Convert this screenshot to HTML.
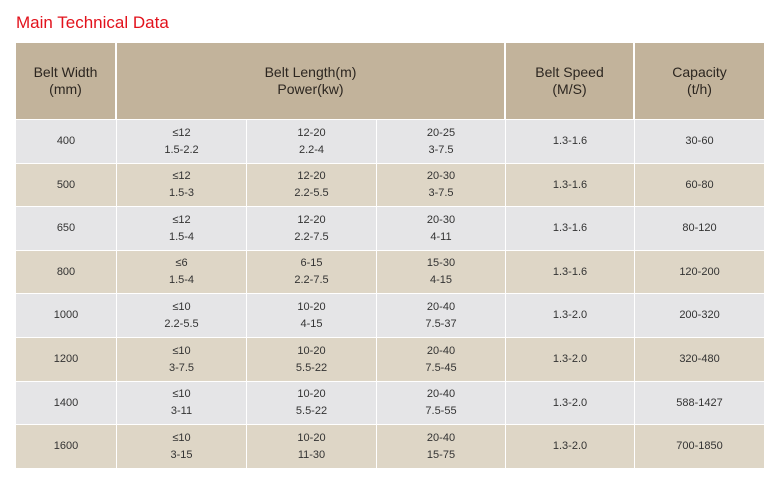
<!DOCTYPE html>
<html><head><meta charset="utf-8"><style>
body{margin:0;width:782px;height:479px;background:#fff;font-family:"Liberation Sans",sans-serif;position:relative;overflow:hidden}
.t{position:absolute;left:16px;top:13px;font-size:17px;color:#e2121c}
.c{position:absolute;display:flex;align-items:center;justify-content:center;text-align:center;color:#333;font-size:11px;line-height:17px;box-sizing:border-box}
.h{background:#c2b39b;font-size:14px;line-height:17px;color:#2c2620}
</style></head><body>
<div class="t">Main Technical Data</div>
<div id="tbl"></div>
<script>
const widths=["400","500","650","800","1000","1200","1400","1600"];
const len1=["≤12|1.5-2.2","≤12|1.5-3","≤12|1.5-4","≤6|1.5-4","≤10|2.2-5.5","≤10|3-7.5","≤10|3-11","≤10|3-15"];
const len2=["12-20|2.2-4","12-20|2.2-5.5","12-20|2.2-7.5","6-15|2.2-7.5","10-20|4-15","10-20|5.5-22","10-20|5.5-22","10-20|11-30"];
const len3=["20-25|3-7.5","20-30|3-7.5","20-30|4-11","15-30|4-15","20-40|7.5-37","20-40|7.5-45","20-40|7.5-55","20-40|15-75"];
const speeds=["1.3-1.6","1.3-1.6","1.3-1.6","1.3-1.6","1.3-2.0","1.3-2.0","1.3-2.0","1.3-2.0"];
const caps=["30-60","60-80","80-120","120-200","200-320","320-480","588-1427","700-1850"];
const cols=[16,116,246,376,505,634,764];
function cell(x,y,w,h,html,cls,bg){
 const d=document.createElement('div');
 d.className='c '+(cls||'');
 d.style.left=x+'px';d.style.top=y+'px';d.style.width=w+'px';d.style.height=h+'px';
 if(bg)d.style.background=bg;
 d.innerHTML=html;
 document.body.appendChild(d);return d;
}
const top0=43,hdrB=119,rowH=43.6;
let e;
e=cell(16,top0,99,hdrB-top0,'Belt Width<br>(mm)','h');


e=cell(117,top0,387,hdrB-top0,'Belt Length(m)<br>Power(kw)','h');


e=cell(506,top0,127,hdrB-top0,'Belt Speed<br>(M/S)','h');


e=cell(635,top0,129,hdrB-top0,'Capacity<br>(t/h)','h');


for(let r=0;r<widths.length;r++){
 const y=Math.round(hdrB+1+r*rowH), y2=Math.round(hdrB+1+(r+1)*rowH)-1;
 const bg=r%2?'#ded6c6':'#e5e5e7';
 const vals=[widths[r],len1[r].replace('|','<br>'),len2[r].replace('|','<br>'),len3[r].replace('|','<br>'),speeds[r],caps[r]];
 const names=['belt-width','length-power-1','length-power-2','length-power-3','belt-speed','capacity'];
 for(let c=0;c<6;c++){
  const x=cols[c]+(c?1:0);
  e=cell(x,y,cols[c+1]-x,y2-y,vals[c],'',bg);
  
  
 }
}
</script>
</body></html>
